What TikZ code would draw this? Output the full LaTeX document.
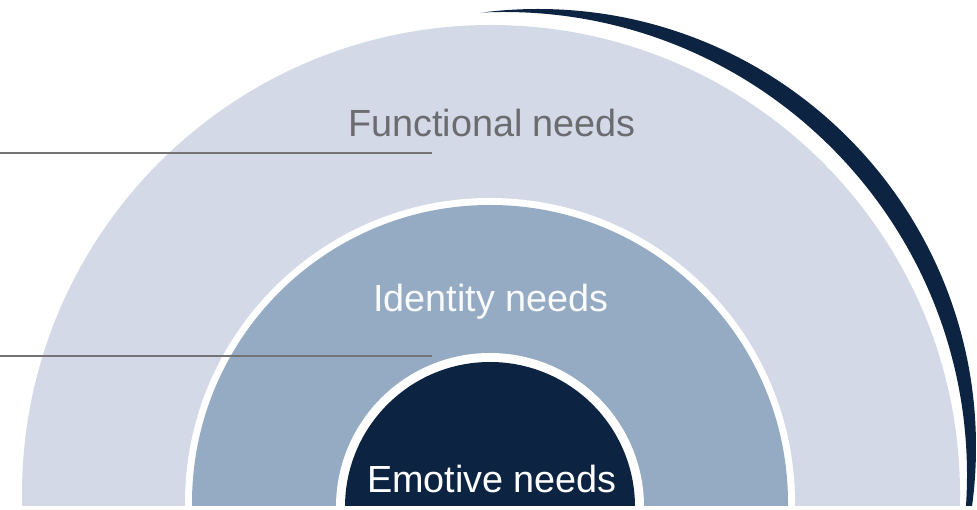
\documentclass[tikz,border=0pt]{standalone}
\usepackage{fontspec}
\setmainfont{Liberation Sans}
\usepackage{tikz}
\usetikzlibrary{positioning}
\definecolor{lightring}{HTML}{D3D9E6}
\definecolor{midring}{HTML}{95AAC3}
\definecolor{darkring}{HTML}{0C2441}
\definecolor{labelgray}{HTML}{6A6C70}
\definecolor{leadergray}{HTML}{747474}

\begin{document}
\begin{tikzpicture}[x=0.02cm,y=0.02cm,
	needs/.style={font=\fontsize{21.5}{24}\selectfont, anchor=base, inner sep=0pt},
	leader/.style={draw=leadergray, line width=1.15pt}]
	\useasboundingbox (0,0) rectangle (977,510);
	\begin{scope}
	\clip (0,4) rectangle (977,510);
	\fill [lightring] (491,16) circle (469);
	\fill [white] (490,7) circle (305);
	\fill [midring] (490,7) circle (298);
	\fill [white] (490,3) circle (154);
	\fill [darkring] (490,3) circle (145);
	\end{scope}
	% outer dark crescent
	\begin{scope}
	\clip (538,63) circle (438);
	\clip (0,4) rectangle (977,510);
	\fill [darkring, even odd rule] (0,0) rectangle (977,510) (504,35) circle (463);
	\end{scope}
	\node [needs, text=labelgray] (functional) at (492,373) {Functional needs};
	\node [needs, text=white!94!midring] (identity) at (491,198) {Identity needs};
	\node [needs, text=white] (emotive) at (492,17) {Emotive needs};
	\coordinate (funcleft) at (0,357);
	\coordinate (funcright) at (432,357);
	\coordinate (idleft) at (0,154);
	\coordinate (idright) at (432,154);
	\draw [leader] (funcleft) -- (funcright);
	\draw [leader] (idleft) -- (idright);
\end{tikzpicture}
\end{document}
